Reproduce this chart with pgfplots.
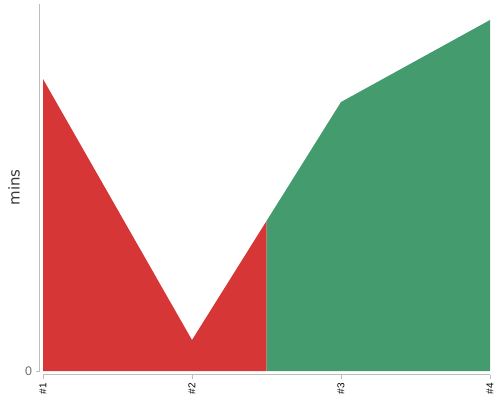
\documentclass[border=0pt]{standalone}
\usepackage{pgfplots}
\pgfplotsset{compat=1.18}
\usepackage{fontspec}
\setmainfont{Liberation Sans}
\newfontfamily\labelfont{DejaVu Sans}
\definecolor{redarea}{RGB}{215,54,54}
\definecolor{greenarea}{RGB}{68,156,110}
\definecolor{axisgray}{RGB}{190,190,190}
\definecolor{labelgray}{RGB}{55,55,55}
\definecolor{tickgray}{RGB}{110,110,110}
\begin{document}
\begin{tikzpicture}[x=1bp,y=1bp]
\useasboundingbox (0,0) rectangle (500,400);
\begin{axis}[
    at={(43bp,29bp)}, anchor=south west,
    scale only axis, width=447bp, height=367bp,
    xmin=1, xmax=4, ymin=0, ymax=367,
    axis x line*=bottom, axis y line*=left,
    axis x line shift=3.5bp, axis y line shift=3.5bp,
    axis line style={draw=axisgray, line width=1bp, -},
    xtick={1,2,3,4}, xticklabels={\#1,\#2,\#3,\#4},
    ytick={0},
    tick align=outside, major tick length=4bp,
    tick style={draw=axisgray, line width=1bp},
    x tick label style={rotate=90, anchor=east, inner sep=2bp, xshift=-2.5bp,
        font=\fontsize{10}{11}\selectfont, text=black},
    y tick label style={font=\fontsize{12.5}{14}\selectfont, text=tickgray},
    /pgf/number format/assume math mode=true,
    ylabel={mins},
    ylabel style={at={(axis description cs:0,0.5)}, anchor=center, yshift=29bp,
        font=\labelfont\fontsize{15}{17}\selectfont, text=labelgray},
]
\addplot[draw=none, fill=redarea] coordinates {(1,292) (2,31) (2.5,150)} \closedcycle;
\addplot[draw=none, fill=greenarea] coordinates {(2.5,150) (3,269) (4,351)} \closedcycle;
\end{axis}
\end{tikzpicture}
\end{document}
